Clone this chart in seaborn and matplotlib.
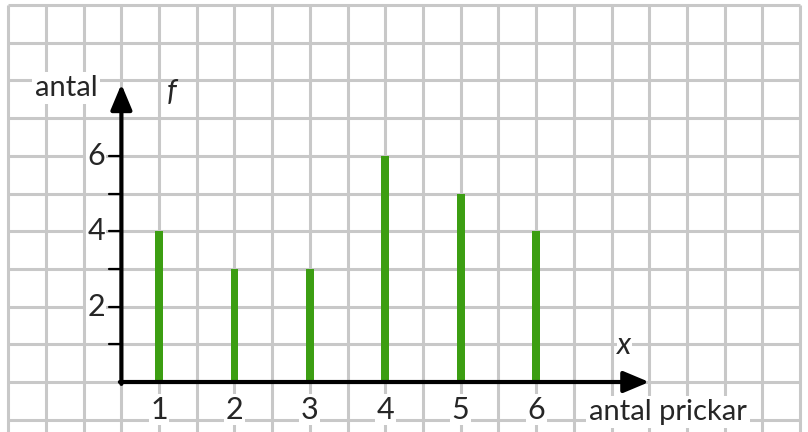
import numpy as np
import pandas as pd
import matplotlib
matplotlib.use("Agg")
import matplotlib.pyplot as plt
import seaborn as sns

# data: number of dots on the die and how many times
antal_prickar = [1, 2, 3, 4, 5, 6]
antal = [4, 3, 3, 6, 5, 4]
y_ticks = [1, 2, 3, 4, 5, 6]
y_labels = ["", "2", "", "4", "", "6"]

sns.set_style("white")
plt.rcParams['font.family'] = ['Lato', 'DejaVu Sans']

df = pd.DataFrame({"x": antal_prickar, "f": antal})

fig = plt.figure(figsize=(8.08, 4.32), dpi=100)
ax = fig.add_axes([0, 0, 1, 1])

grid_col = "#c8c8c8"
gx = np.arange(-1.0, 9.51, 0.5)
gy = np.arange(-1, 11)
ax.vlines(gx, -2, 10, color=grid_col, lw=2.2, zorder=0)
ax.hlines(gy, -1.0, 9.5, color=grid_col, lw=2.2, zorder=0)

sns.barplot(data=df, x="x", y="f", native_scale=True, width=0.105,
            color="#3c9e12", saturation=1, linewidth=0, ax=ax, zorder=2)

x0 = 0.5  # where the f-axis stands
lw = 3.0
head = "-|>,head_length=1.55,head_width=0.65"
ax.annotate("", xy=(x0, 7.9), xytext=(x0, -0.05),
            arrowprops=dict(arrowstyle=head, lw=lw, color="black",
                            shrinkA=0, shrinkB=0), zorder=5)
ax.annotate("", xy=(7.5, 0), xytext=(x0 - 0.02, 0),
            arrowprops=dict(arrowstyle=head, lw=lw, color="black",
                            shrinkA=0, shrinkB=0), zorder=5)

fs = 21
# ticks on the f-axis
for t, lab in zip(y_ticks, y_labels):
    ax.plot([x0 - 0.16, x0], [t, t], color="black", lw=1.6, zorder=5)
    if lab:
        ax.text(x0 - 0.22, t, lab, ha="right", va="center", fontsize=fs + 1,
                zorder=6, bbox=dict(facecolor="white", edgecolor="none", pad=1))

for v in antal_prickar:
    ax.text(v, -0.74, str(v), ha="center", va="center", fontsize=fs + 1, zorder=6,
            bbox=dict(facecolor="white", edgecolor="none", pad=1))

box = dict(facecolor="white", edgecolor="none", pad=2)
ax.text(-0.235, 7.8, "antal", ha="center", va="center", fontsize=fs, zorder=6, bbox=box)
ax.text(7.75, -0.8, "antal prickar", ha="center", va="center", fontsize=fs, zorder=6, bbox=box)
ax.text(1.17, 7.7, "f", ha="center", va="center", fontsize=fs + 1, style="italic", zorder=6)
ax.text(7.17, 0.98, "x", ha="center", va="center", fontsize=fs + 1, style="italic", zorder=6,
        bbox=dict(facecolor="white", edgecolor="none", pad=0.5))

ax.set_xlim(-1.11, 9.606)
ax.set_ylim(-1.326, 10.133)
ax.axis("off")

fig.savefig("out.png", dpi=100)
